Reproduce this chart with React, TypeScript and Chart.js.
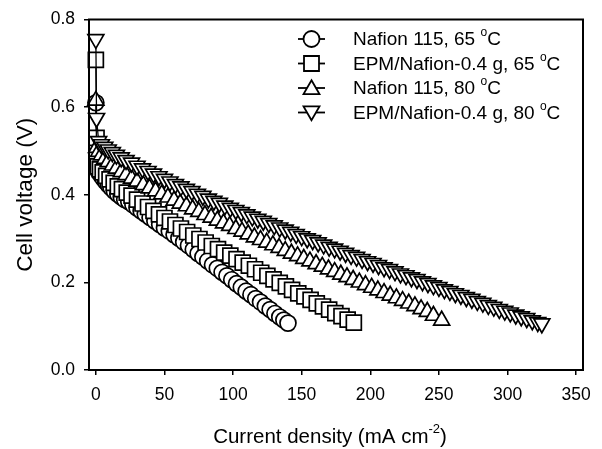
import React, { useEffect, useRef } from "react";
import { Chart, registerables } from "chart.js";
import { drawPoint } from "chart.js/helpers";

Chart.register(...registerables);

const FAMILY = '"Liberation Sans", Arial, sans-serif';

// Nafion 115, 65 °C (circles)
const nafion65I = [0, 0.8, 2, 3.5, 5, 7, 9, 11, 13.5, 16, 18.5, 21, 24, 27, 30, 33, 36, 39.5, 43, 46.5, 50, 53.5, 57, 60.5, 64, 67.5, 71, 74.5, 78, 81.5, 85, 88.5, 92, 95.5, 99, 102.5, 106, 109.5, 113, 116.5, 120, 123.5, 127, 130.5, 134, 137, 140];
const nafion65V = [0.61, 0.46, 0.452, 0.445, 0.438, 0.430, 0.423, 0.416, 0.408, 0.401, 0.395, 0.389, 0.384, 0.377, 0.370, 0.363, 0.356, 0.348, 0.340, 0.332, 0.324, 0.317, 0.309, 0.301, 0.292, 0.284, 0.275, 0.266, 0.258, 0.249, 0.240, 0.232, 0.223, 0.215, 0.206, 0.197, 0.189, 0.180, 0.172, 0.163, 0.155, 0.146, 0.138, 0.129, 0.121, 0.114, 0.107];

// EPM/Nafion-0.4 g, 65 °C (squares)
const epm65I = [0, 0.5, 1.5, 3, 5, 7.5, 10, 13, 16, 19, 22.5, 26, 30, 34, 38, 42, 46, 50, 54, 58, 62, 66.5, 71, 75.5, 80, 84.5, 89, 93.5, 98, 102.5, 107, 111.5, 116, 120.5, 125, 129.5, 134, 138.5, 143, 147.5, 152, 156.5, 161, 165.5, 170, 174.5, 179, 183.5, 188];
const epm65V = [0.708, 0.53, 0.465, 0.458, 0.451, 0.443, 0.435, 0.427, 0.419, 0.413, 0.405, 0.398, 0.389, 0.380, 0.372, 0.363, 0.355, 0.347, 0.339, 0.331, 0.323, 0.315, 0.307, 0.299, 0.291, 0.283, 0.276, 0.268, 0.261, 0.253, 0.245, 0.238, 0.230, 0.222, 0.215, 0.207, 0.199, 0.191, 0.183, 0.175, 0.168, 0.160, 0.152, 0.145, 0.138, 0.130, 0.123, 0.115, 0.108];

// Nafion 115, 80 °C (triangles)
const nafion80I = [0, 0.5, 2, 4, 6.5, 9, 12, 15, 18.5, 22, 26, 30, 34.5, 39, 43.5, 48, 52.5, 57, 61.5, 66, 70.5, 75, 79.5, 84, 88.5, 93, 97.5, 102, 106.5, 111, 115.5, 120, 124.5, 129, 133.5, 138, 142.5, 147, 151.5, 156, 160.5, 165, 169.5, 174, 178.5, 183, 187.5, 192, 196.5, 201, 205.5, 210, 214.5, 219, 223.5, 228, 232.5, 237, 241.5, 246, 252];
const nafion80V = [0.615, 0.507, 0.498, 0.490, 0.482, 0.475, 0.467, 0.460, 0.452, 0.445, 0.437, 0.430, 0.422, 0.415, 0.408, 0.401, 0.394, 0.387, 0.380, 0.374, 0.367, 0.361, 0.354, 0.348, 0.341, 0.335, 0.329, 0.322, 0.316, 0.310, 0.303, 0.297, 0.291, 0.285, 0.279, 0.272, 0.266, 0.260, 0.254, 0.248, 0.242, 0.236, 0.230, 0.224, 0.218, 0.212, 0.206, 0.200, 0.194, 0.188, 0.182, 0.176, 0.170, 0.164, 0.158, 0.152, 0.146, 0.139, 0.133, 0.124, 0.113];

// EPM/Nafion-0.4 g, 80 °C (down triangles)
const epm80I = [0, 0.5, 2, 4, 6.5, 9, 12, 15, 18.5, 22, 26, 30, 34, 38, 42, 46, 50, 54, 58, 62, 66, 70, 74, 78, 82, 86, 90, 94, 98, 102, 106, 110, 114, 118, 122, 126, 130, 134, 138, 142, 146, 150, 154, 158, 162, 166, 170, 174, 178, 182, 186, 190, 194, 198, 202, 206, 210, 214, 218, 222, 226, 230, 234, 238, 242, 246, 250, 254, 258, 262, 266, 270, 274, 278, 282, 286, 290, 294, 298, 302, 306, 310, 314, 318, 322, 325];
const epm80V = [0.755, 0.575, 0.522, 0.515, 0.509, 0.503, 0.497, 0.491, 0.485, 0.479, 0.473, 0.466, 0.460, 0.454, 0.448, 0.442, 0.436, 0.430, 0.424, 0.419, 0.413, 0.408, 0.402, 0.397, 0.391, 0.386, 0.381, 0.375, 0.370, 0.365, 0.360, 0.355, 0.350, 0.345, 0.340, 0.335, 0.330, 0.325, 0.320, 0.315, 0.310, 0.305, 0.300, 0.296, 0.291, 0.286, 0.281, 0.277, 0.272, 0.267, 0.262, 0.258, 0.253, 0.248, 0.244, 0.239, 0.234, 0.230, 0.225, 0.220, 0.216, 0.211, 0.207, 0.202, 0.198, 0.193, 0.189, 0.184, 0.180, 0.175, 0.171, 0.166, 0.162, 0.157, 0.153, 0.148, 0.144, 0.139, 0.135, 0.131, 0.126, 0.122, 0.118, 0.113, 0.109, 0.106];

const seriesNames = ["Nafion 115, 65 ", "EPM/Nafion-0.4 g, 65 ", "Nafion 115, 80 ", "EPM/Nafion-0.4 g, 80 "];
const xTicks = [0, 50, 100, 150, 200, 250, 300, 350];
const yTicks = [0, 0.2, 0.4, 0.6, 0.8];

type Part = { t: string; sup?: boolean };

function drawRich(ctx: CanvasRenderingContext2D, parts: Part[], x: number, y: number, size: number, align: "left" | "center") {
  const supSize = Math.round(size * 0.62);
  let total = 0;
  for (const p of parts) {
    ctx.font = `${p.sup ? supSize : size}px ${FAMILY}`;
    total += ctx.measureText(p.t).width;
  }
  let cx = align === "center" ? x - total / 2 : x;
  ctx.textAlign = "left";
  ctx.textBaseline = "middle";
  for (const p of parts) {
    ctx.font = `${p.sup ? supSize : size}px ${FAMILY}`;
    ctx.fillText(p.t, cx, p.sup ? y - size * 0.38 : y);
    cx += ctx.measureText(p.t).width;
  }
}

const styles = [
  { pointStyle: "circle", radius: 8, rotation: 0 },
  { pointStyle: "rect", radius: 10.6, rotation: 0 },
  { pointStyle: "triangle", radius: 9.2, rotation: 0 },
  { pointStyle: "triangle", radius: 9.2, rotation: 180 },
];

const overlay = {
  id: "overlay",
  afterDatasetsDraw(chart: any) {
    const { ctx, chartArea: a } = chart;
    ctx.save();
    ctx.strokeStyle = "#000";
    ctx.lineWidth = 2;
    ctx.strokeRect(a.left, a.top, a.right - a.left, a.bottom - a.top);
    ctx.restore();
  },
  afterDraw(chart: any) {
    const { ctx, chartArea: a } = chart;
    ctx.save();
    ctx.fillStyle = "#000";
    // legend
    const rowY = [39, 63.5, 88, 112.5];
    seriesNames.forEach((name, i) => {
      const y = rowY[i];
      ctx.strokeStyle = "#000";
      ctx.lineWidth = 1.8;
      ctx.beginPath();
      ctx.moveTo(298, y);
      ctx.lineTo(325, y);
      ctx.stroke();
      ctx.fillStyle = "#fff";
      const s = styles[i];
      drawPoint(ctx, { pointStyle: s.pointStyle as any, radius: s.radius, rotation: s.rotation, borderWidth: 1.6 }, 311.5, y + (i === 2 ? 1.5 : i === 3 ? -1.5 : 0));
      ctx.fillStyle = "#000";
      drawRich(ctx, [{ t: name }, { t: "o", sup: true }, { t: "C" }], 353, y + 1, 19, "left");
    });
    // x title
    drawRich(ctx, [{ t: "Current density (mA cm" }, { t: "-2", sup: true }, { t: ")" }], (a.left + a.right) / 2 - 6, 437, 20.5, "center");
    // y title
    ctx.translate(26, (a.top + a.bottom) / 2);
    ctx.rotate(-Math.PI / 2);
    ctx.font = `22.5px ${FAMILY}`;
    ctx.textAlign = "center";
    ctx.textBaseline = "middle";
    ctx.fillText("Cell voltage (V)", 0, 0);
    ctx.restore();
  },
};

export default function App() {
  const ref = useRef<HTMLCanvasElement | null>(null);
  useEffect(() => {
    if (!ref.current) return;
    const xs = [nafion65I, epm65I, nafion80I, epm80I];
    const ys = [nafion65V, epm65V, nafion80V, epm80V];
    const datasets = xs.map((xa, i) => ({
      label: seriesNames[i] + "°C",
      data: xa.map((x, j) => ({ x, y: ys[i][j] })),
      borderColor: "#000",
      borderWidth: 1.3,
      backgroundColor: "#fff",
      pointStyle: styles[i].pointStyle as any,
      pointRotation: styles[i].rotation,
      pointRadius: styles[i].radius,
      pointBorderWidth: 1.7,
      pointBorderColor: "#000",
      pointBackgroundColor: "#fff",
      showLine: true,
      fill: false,
      tension: 0,
      clip: 12,
      order: 3 - i,
    }));
    const chart = new Chart(ref.current, {
      type: "scatter",
      data: { datasets },
      plugins: [overlay],
      options: {
        animation: false,
        responsive: true,
        maintainAspectRatio: false,
        layout: { padding: { top: 15, right: 19, left: 0, bottom: 0 } },
        plugins: { legend: { display: false }, tooltip: { enabled: false } },
        scales: {
          x: {
            type: "linear",
            min: -5,
            max: 355,
            afterBuildTicks: (axis: any) => {
              axis.ticks = xTicks.map((v) => ({ value: v }));
            },
            afterFit: (s: any) => {
              s.height = 79;
            },
            grid: { drawOnChartArea: false, drawTicks: true, tickLength: 5, color: "#000", lineWidth: 1.5 },
            border: { display: true, color: "#000", width: 2 },
            ticks: { color: "#000", font: { family: FAMILY, size: 17.5 }, padding: 10, maxRotation: 0, callback: (v: any) => String(v) },
          },
          y: {
            type: "linear",
            min: 0,
            max: 0.8,
            afterBuildTicks: (axis: any) => {
              axis.ticks = yTicks.map((v) => ({ value: v }));
            },
            afterFit: (s: any) => {
              s.width = 89;
            },
            grid: { drawOnChartArea: false, drawTicks: true, tickLength: 5, color: "#000", lineWidth: 1.5 },
            border: { display: true, color: "#000", width: 2 },
            ticks: { color: "#000", font: { family: FAMILY, size: 17.5 }, padding: 9, callback: (v: any) => Number(v).toFixed(1) },
          },
        },
      },
    });
    return () => chart.destroy();
  }, []);
  return (
    <div style={{ position: "fixed", left: 0, top: 0, width: 602, height: 449, background: "#fff" }}>
      <canvas ref={ref} />
    </div>
  );
}
